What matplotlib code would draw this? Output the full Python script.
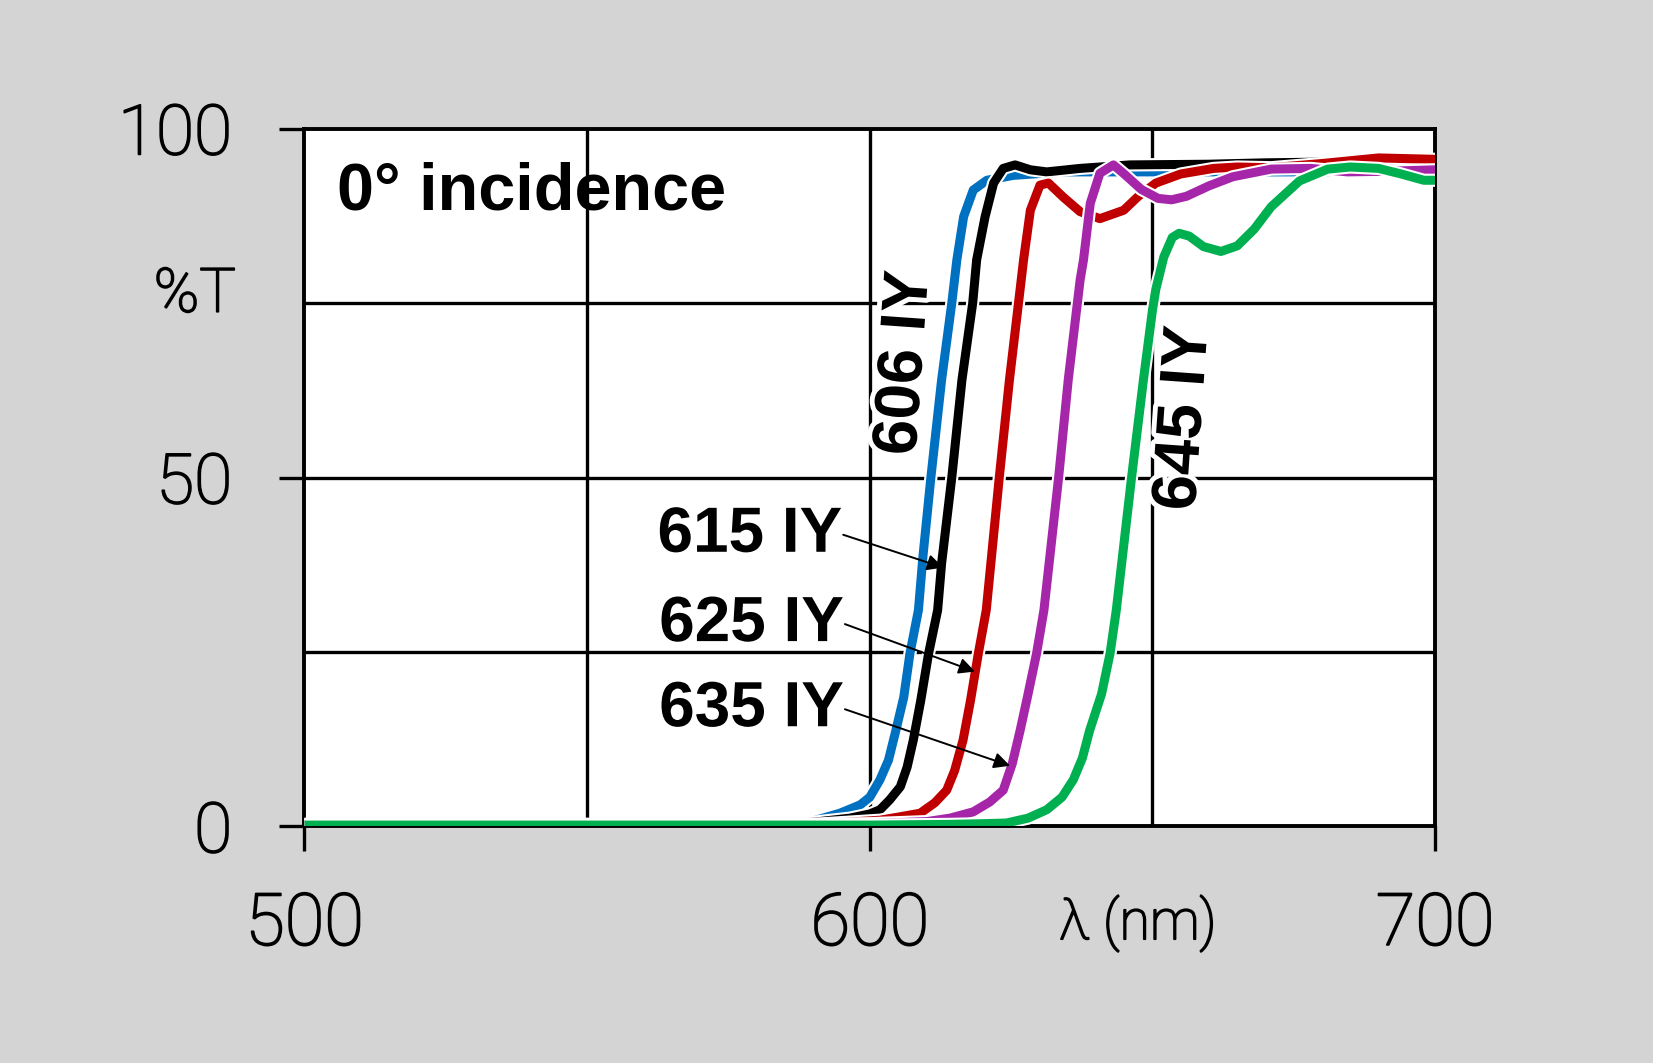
import matplotlib
matplotlib.use('Agg')
import matplotlib.pyplot as plt
import matplotlib.patheffects as pe

# === data (wavelength nm, %T) ===
wl_606 = [500, 520, 540, 560, 580, 590, 594.7, 598.3, 600, 601.8, 603.3, 604.5, 606, 607.1, 608.6, 609.4,
          610.8, 612.7, 614.5, 615.4, 616.6, 618.3, 620.7, 625.4, 634.2, 650, 675, 700]
t_606 = [0.3, 0.4, 0.3, 0.3, 0.4, 0.8, 1.9, 3.1, 4.2, 6.7, 9.5, 13.4, 18.5, 24.8, 31, 38.7,
         50, 64, 75, 81.2, 87.4, 91.2, 92.6, 93.3, 93.8, 93.8, 93.8, 93.8]

wl_615 = [500, 540, 580, 590, 596.5, 600, 601.8, 603.5, 605.4, 606.6, 607.7, 609, 610.4, 612, 612.7, 614.5,
          616.3, 618.2, 618.9, 620.4, 621.9, 623.6, 625.7, 628.4, 631.3, 637.2, 646, 660, 670, 680, 690, 700]
t_615 = [0.3, 0.3, 0.3, 0.6, 1.2, 1.8, 2.4, 3.8, 5.7, 8.5, 12.4, 18, 24.8, 31, 37.7, 50,
         64, 75, 81.2, 87.4, 92.2, 94.3, 94.8, 94.1, 93.8, 94.3, 94.8, 94.9, 95.1, 95.2, 95.1, 95.0]

wl_625 = [500, 590, 601.8, 605.4, 608.9, 611.5, 613.6, 615, 616.5, 617.8, 619.2, 620.6, 622.9, 624.7, 626.3, 627.2,
          628.4, 630.1, 631.6, 634.2, 637.2, 640.7, 644.9, 647.5, 650.6, 655, 660.8, 665, 671, 680, 690, 700]
t_625 = [0.2, 0.3, 0.9, 1.4, 1.9, 3.4, 5.2, 8, 12.4, 18, 24.8, 31, 50, 64, 75, 81.2,
         88.3, 91.9, 92.2, 90.2, 88.1, 87.1, 88.3, 90.3, 92.2, 93.5, 94.3, 94.5, 94.4, 95.0, 95.8, 95.6]

wl_635 = [500, 590, 600, 610.1, 614.2, 618.3, 621.2, 623.6, 625.2, 626.6, 628, 629.5, 630.8, 633.4, 635.1,
          637.2, 637.8, 639, 640.7, 643.1, 645, 648, 651, 653.4, 656, 660, 664.2, 671, 678, 684.5, 692, 700]
t_635 = [0.2, 0.3, 0.4, 0.7, 1.2, 2.1, 3.5, 5.2, 9, 13.8, 19, 24.8, 31, 50, 64,
         78.3, 81.2, 89.3, 93.6, 94.8, 93.5, 91.3, 90, 89.8, 90.3, 91.8, 93.1, 94.2, 94.3, 93.8, 93.9, 94.1]

wl_645 = [500, 600, 614.2, 620, 624.2, 628, 631.3, 634, 636, 637.6, 638.9, 641, 642.5, 643.6, 646.3, 648.4, 650,
          650.6, 652, 653.5, 654.7, 656.5, 659, 662.1, 665, 668, 671, 676, 681, 685, 690, 694, 698, 700]
t_645 = [0.2, 0.2, 0.3, 0.4, 0.5, 1.2, 2.4, 4.2, 6.7, 9.8, 13.8, 19, 24.8, 31, 50, 64, 74,
         77, 81.6, 84.4, 85, 84.6, 83.1, 82.4, 83.2, 85.6, 88.8, 92.5, 94.2, 94.5, 94.3, 93.5, 92.6, 92.6]

series = [
    (wl_606, t_606, '#0070c0'),
    (wl_615, t_615, '#000000'),
    (wl_625, t_625, '#c00000'),
    (wl_635, t_635, '#a626aa'),
    (wl_645, t_645, '#00b050'),
]

# labels with arrows: text, text anchor (nm, %T), arrow tip (nm, %T)
arrow_labels = [
    ('615 IY', (595.3, 41.8), (613.0, 37.1)),
    ('625 IY', (595.6, 29.0), (618.6, 22.2)),
    ('635 IY', (595.6, 16.8), (624.8, 8.7)),
]
rot_labels = [
    ('606 IY', (606.2, 66.4)),
    ('645 IY', (655.6, 58.5)),
]

bg = '#d4d4d4'
light = dict(family=['Roboto', 'DejaVu Sans'], weight='light')
bold = dict(family=['Liberation Sans Narrow', 'Liberation Sans', 'DejaVu Sans'], weight='bold')
halo = [pe.withStroke(linewidth=7, foreground='white')]
thicken = [pe.withStroke(linewidth=1.3, foreground='k')]

fig = plt.figure(figsize=(16.53, 10.63), dpi=100, facecolor=bg)
ax = fig.add_axes([0.1842, 0.2225, 0.684, 0.6565])
ax.set_facecolor('white')
ax.set_xlim(500, 700)
ax.set_ylim(0, 100)

# grid
for gx in [550, 600, 650]:
    ax.axvline(gx, color='k', lw=2.4, zorder=1)
for gy in [25, 50, 75]:
    ax.axhline(gy, color='k', lw=2.4, zorder=1)

for s in ax.spines.values():
    s.set_linewidth(2.8)
    s.set_zorder(2)

for i, (x, y, c) in enumerate(series):
    ax.plot(x, y, color=c, lw=6.5, zorder=3 + i, solid_joinstyle='round', solid_capstyle='butt',
            path_effects=[pe.Stroke(linewidth=9.5, foreground='white'), pe.Normal()])

ax.set_xticks([500, 600, 700])
ax.set_yticks([0, 50, 100])
ax.set_xticklabels(['500', '600', '700'], fontsize=52, **light)
ax.set_yticklabels(['0', '50', '100'], fontsize=50, **light)
ax.tick_params(axis='both', direction='out', length=18, width=2.4, color='k')
ax.tick_params(axis='x', pad=28)
ax.tick_params(axis='y', pad=34)
for lab in ax.get_xticklabels() + ax.get_yticklabels():
    lab.set_path_effects(thicken)

# text
ax.text(505.8, 90.9, '0° incidence', fontsize=48, ha='left', va='center', zorder=12, **bold)
for txt, (tx, ty), (hx, hy) in arrow_labels:
    ax.text(tx - 0.2, ty, txt, fontsize=46, ha='right', va='center', zorder=12,
            path_effects=halo, **bold)
    ax.annotate('', xy=(hx, hy), xytext=(tx, ty), zorder=12,
                arrowprops=dict(arrowstyle='-|>', color='k', lw=1.4, mutation_scale=24,
                                shrinkA=0, shrinkB=0))
for txt, (tx, ty) in rot_labels:
    ax.text(tx, ty, txt, fontsize=46, rotation=86, ha='center', va='center',
            rotation_mode='anchor', zorder=12, path_effects=halo, **bold)

ax.text(-0.097, 0.762, '%T', transform=ax.transAxes, fontsize=44, ha='center', va='center',
        path_effects=thicken, **light)
ax.text(647.4, -0.139, 'λ (nm)', transform=ax.get_xaxis_transform(), fontsize=40,
        ha='center', va='center', path_effects=thicken, **light)

fig.savefig('out.png', dpi=100, facecolor=bg)
